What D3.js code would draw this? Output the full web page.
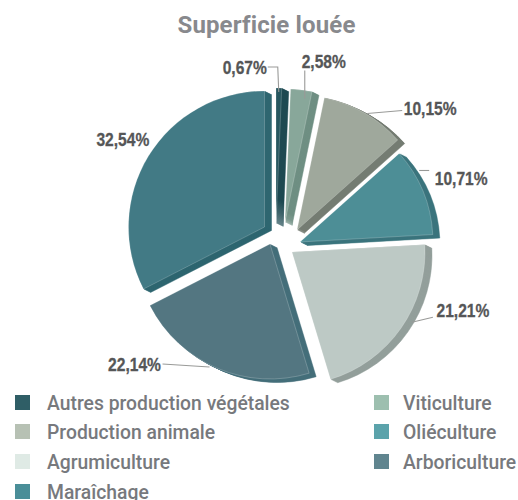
<!DOCTYPE html>
<html>
<head>
<meta charset="utf-8">
<script src="https://cdn.jsdelivr.net/npm/d3@7"></script>
<style>
  html, body { margin: 0; padding: 0; background: #fff; }
</style>
</head>
<body>
<div id="chart"></div>
<script>
// data ---------------------------------------------------------
const chartTitle = "Superficie louée";
const categories = ["Autres production végétales", "Viticulture", "Production animale", "Oliéculture", "Agrumiculture", "Arboriculture", "Maraîchage"];
const values = [0.67, 2.58, 10.15, 10.71, 21.21, 22.14, 32.54];
const valueLabels = ["0,67%", "2,58%", "10,15%", "10,71%", "21,21%", "22,14%", "32,54%"];

// colours ------------------------------------------------------
const faceColors = ["#27575f", "#88a79a", "#9fa89c", "#4d8e96", "#bdc9c5", "#537681", "#427a85"];
const sideColors = ["#1f4a52", "#6f8f83", "#747c72", "#3b747d", "#939f9b", "#456f7a", "#2f6670"];
const legendColors = ["#2f5e66", "#9dbfaf", "#b7c1b4", "#5ba3ab", "#dfeae5", "#60858f", "#4a8e98"];

// layout -------------------------------------------------------
const width = 518, height = 500;
const radii = [135, 133, 135, 133, 133, 135, 136];
const depth = { x: 7, y: 3.5 };
// where each slice's point ends up once pulled out of the pie
const apexX = [276, 285, 297, 300, 292, 270, 264.5];
const apexY = [223, 222, 230, 242, 252, 244, 227];
// leader line: fraction along the outer edge, inset from that edge, elbow and label offsets
const leaderAt = [0.5, 0.72, 0.53, 0.28, 0.44, 0.54, 0.5];
const leaderInset = [4, 8, -1, -6, -6, -2, 4];
const elbowShift = [[-1, -25], [0, -28], [35, -3], [10, 0], [21, -5], [-47, -3], null];
const leaderTail = [-10, 0, 0, 0, 0, 0, 0];
const labelShift = [[-34, -25], [19, -37], [63, -5], [42, 8], [51, -12], [-75, -2], [-29, -19]];
const legendOrder = [[0, 15, 402.5], [2, 15, 431.5], [4, 15, 461.5], [6, 15, 491.5], [1, 374, 402.5], [3, 374, 431.5], [5, 374, 461.5]];

const svg = d3.select("#chart").append("svg")
  .attr("width", width)
  .attr("height", height)
  .style("display", "block");

// condensed look: none of the installed fonts is narrow enough
function squeeze(selection, k) {
  selection
    .attr("lengthAdjust", "spacingAndGlyphs")
    .attr("textLength", function () {
      return this.getComputedTextLength() * k;
    });
}

svg.append("text")
  .attr("x", 266.5)
  .attr("y", 33)
  .attr("text-anchor", "middle")
  .attr("font-family", "Roboto")
  .attr("font-weight", 700)
  .attr("font-size", "24px")
  .attr("letter-spacing", "0.15px")
  .attr("fill", "#88898d")
  .text(chartTitle);

// Pie
const pie = d3.pie().sort(null).value((d) => d);
const arcs = pie(values);
const arc = d3.arc().innerRadius(0);

const slices = svg.append("g")
  .selectAll("g")
  .data(arcs)
  .enter()
  .append("g")
  .attr("transform", (d, i) => "translate(" + apexX[i] + "," + apexY[i] + ")");

// side of the slice: the same arc stacked along the depth direction
slices.each(function (d, i) {
  const g = d3.select(this);
  const shape = arc.outerRadius(radii[i])(d);
  d3.range(1, depth.x + 1).reverse().forEach((s) => {
    g.append("path")
      .attr("d", shape)
      .attr("transform", "translate(" + s + "," + (s * depth.y) / depth.x + ")")
      .attr("fill", sideColors[i])
      .attr("stroke", sideColors[i])
      .attr("stroke-width", 0.5);
  });
  g.append("path")
    .attr("d", shape)
    .attr("fill", faceColors[i])
    .attr("stroke", "#fff")
    .attr("stroke-opacity", 0.3)
    .attr("stroke-width", 0.7);
});

// Leader lines and value labels
const labels = svg.append("g");
arcs.forEach((d, i) => {
  const a = d.startAngle + (d.endAngle - d.startAngle) * leaderAt[i];
  const r = radii[i] - leaderInset[i];
  const px = apexX[i] + Math.sin(a) * r;
  const py = apexY[i] - Math.cos(a) * r;
  if (elbowShift[i]) {
    const ex = px + elbowShift[i][0], ey = py + elbowShift[i][1];
    labels.append("path")
      .attr("d", d3.line()([[px, py], [ex, ey], [ex + leaderTail[i], ey]]))
      .attr("fill", "none")
      .attr("stroke", "#999a98")
      .attr("stroke-width", 1.1);
  }
  labels.append("text")
    .attr("x", px + labelShift[i][0])
    .attr("y", py + labelShift[i][1])
    .attr("text-anchor", "middle")
    .attr("dominant-baseline", "central")
    .attr("font-family", "Liberation Sans")
    .attr("font-weight", 700)
    .attr("font-size", "19px")
    .attr("fill", "#555657")
    .attr("stroke", "#555657")
    .attr("stroke-width", 0.3)
    .text(valueLabels[i])
    .call(squeeze, 0.82);
});

// Legend
const legend = svg.append("g")
  .selectAll("g")
  .data(legendOrder)
  .enter()
  .append("g")
  .attr("transform", (d) => "translate(" + d[1] + "," + d[2] + ")");

legend.append("rect")
  .attr("y", -7.5)
  .attr("width", 15)
  .attr("height", 15)
  .attr("fill", (d) => legendColors[d[0]]);

legend.append("text")
  .attr("x", (d) => (d[1] < 100 ? 32 : 29))
  .attr("y", 7.5)
  .attr("font-family", "Roboto")
  .attr("font-weight", 500)
  .attr("font-size", "21px")
  .attr("fill", "#77797d")
  .text((d) => categories[d[0]])
  .call(squeeze, 0.92);
</script>
</body>
</html>
